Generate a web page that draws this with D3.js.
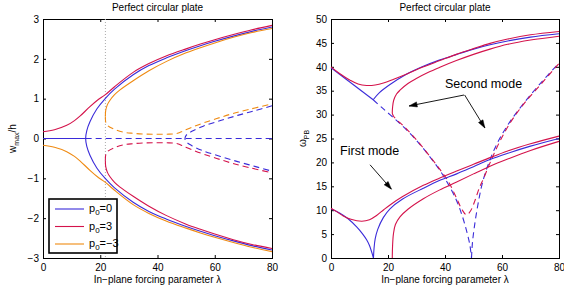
<!DOCTYPE html>
<html>
<head>
<meta charset="utf-8">
<script src="https://cdn.jsdelivr.net/npm/d3@7"></script>
<style>
  body { margin: 0; background: #fff; }
  svg { display: block; font-family: "Liberation Sans", Arial, sans-serif; }
  .tick text { font-size: 10px; fill: #000; }
</style>
</head>
<body>
<div class="container"></div>
<script>
"use strict";

// ---------- data ----------
var lambdaTicks = [0, 20, 40, 60, 80];
var wTicks = [-3, -2, -1, 0, 1, 2, 3];
var omegaTicks = [0, 5, 10, 15, 20, 25, 30, 35, 40, 45, 50];
var lambdaCritical = 21.8; // dotted guide line

// left panel: w_max/h against lambda, [lambda, w]
var blueFlatStable = [[0, 0], [14.9, 0]];
var blueFlatUnstable = [[14.9, 0], [80, 0]];
var blueBuckled = [[80, 2.8], [73, 2.69], [66.5, 2.57], [60, 2.44], [55, 2.33], [50, 2.21], [43, 2.02], [37, 1.83], [31.5, 1.6], [25, 1.24], [21.8, 1.01], [18.8, 0.74], [16.4, 0.42], [15.3, 0.2], [14.9, 0],
  [15.3, -0.2], [16.4, -0.42], [18.8, -0.74], [21.8, -1.01], [25, -1.24], [31.5, -1.6], [37, -1.83], [43, -2.02], [50, -2.21], [55, -2.33], [60, -2.44], [66.5, -2.57], [73, -2.69], [80, -2.8]];
var blueSecond = [[80, 0.82], [74, 0.7], [68, 0.58], [62, 0.45], [56, 0.31], [52, 0.18], [50, 0.08], [49.6, 0],
  [50, -0.08], [52, -0.18], [56, -0.31], [62, -0.45], [68, -0.58], [74, -0.7], [80, -0.82]];

var redStable = [[0, 0.17], [4, 0.22], [8.3, 0.33], [11, 0.45], [12.9, 0.56], [16.4, 0.8], [19, 0.96], [21.8, 1.1], [25, 1.3], [31.5, 1.66], [37, 1.88], [43, 2.07], [50, 2.25], [55, 2.37], [60, 2.48], [66.5, 2.61], [73, 2.73], [80, 2.84]];
var redFoldStable = [[21.8, -0.55], [21.9, -0.7], [22.5, -0.85], [23.4, -0.96], [25, -1.1], [26.9, -1.22], [31.5, -1.45], [37, -1.7], [43, -1.93], [50, -2.15], [55, -2.28], [60, -2.4], [66.5, -2.54], [73, -2.66], [80, -2.76]];
var redFoldUnstable = [[21.8, -0.55], [21.9, -0.42], [22.5, -0.33], [24.6, -0.24], [28, -0.16], [31.5, -0.13], [36, -0.11], [40, -0.105], [44, -0.11], [47, -0.13], [49, -0.19], [52, -0.28], [56, -0.39], [60.7, -0.5], [66, -0.62], [72, -0.73], [80, -0.86]];

var orangeStable = [[0, -0.17], [4, -0.22], [8.3, -0.33], [11, -0.45], [12.9, -0.56], [16.4, -0.8], [19, -0.96], [21.8, -1.1], [25, -1.3], [31.5, -1.66], [37, -1.88], [43, -2.07], [50, -2.25], [55, -2.37], [60, -2.48], [66.5, -2.61], [73, -2.73], [80, -2.84]];
var orangeFoldStable = [[21.8, 0.55], [21.9, 0.7], [22.5, 0.85], [23.4, 0.96], [25, 1.1], [26.9, 1.22], [31.5, 1.45], [37, 1.7], [43, 1.93], [50, 2.15], [55, 2.28], [60, 2.4], [66.5, 2.54], [73, 2.66], [80, 2.76]];
var orangeFoldUnstable = [[21.8, 0.55], [21.9, 0.42], [22.5, 0.33], [24.6, 0.24], [28, 0.16], [31.5, 0.13], [36, 0.11], [40, 0.105], [44, 0.11], [47, 0.13], [49, 0.19], [52, 0.28], [56, 0.39], [60.7, 0.5], [66, 0.62], [72, 0.73], [80, 0.87]];

// right panel: omega_PB against lambda, [lambda, omega]
var blueModeTwoPre = [[0, 39.8], [14.8, 33.1]];
var blueModeTwoPost = [[14.8, 33.1], [17, 34.6], [20.7, 36.3], [26, 38.3], [32.4, 40.1], [38, 41.4], [44.1, 42.6], [50, 43.7], [55.8, 44.6], [62, 45.4], [70, 46.2], [80, 46.9]];
var blueModeTwoDashed = [[14.8, 33.1], [18, 31.4], [22, 29.3], [26, 27.1], [30, 24.6], [34, 21.7], [38, 18.5], [41, 15.6], [44, 12.1], [46, 8.9], [47.6, 5.6], [48.7, 2.8], [49.3, 0]];
var blueModeTwoRise = [[49.3, 0], [49.6, 3], [50.3, 6.5], [51.5, 11], [53, 15.4], [55, 19.3], [58, 23.6], [62, 27.8], [67, 31.9], [73, 36.2], [80, 40.8]];
var blueModeOneLeft = [[0, 10.3], [3, 9.4], [6, 8.2], [9, 6.5], [11, 5.1], [12.5, 3.8], [13.5, 2.6], [14.3, 1.2], [14.9, 0]];
var blueModeOneRight = [[14.9, 0], [15.1, 2], [15.5, 4], [16.4, 6], [18.4, 8.5], [20.7, 10.3], [25, 12.3], [32.4, 14.6], [38, 16.2], [44.1, 17.6], [50, 19.1], [55.8, 20.6], [62, 21.9], [70, 23.4], [80, 25]];

var redModeTwoOuter = [[0, 40], [3, 38.6], [6.7, 37.2], [9.5, 36.4], [12.5, 36.1], [15.5, 36.2], [18.4, 36.6], [22, 37.4], [26.6, 38.5], [32, 39.9], [38.2, 41.3], [44, 42.6], [50, 43.8], [55.8, 44.9], [62, 45.8], [70, 46.7], [80, 47.4]];
var redModeTwoInner = [[21.5, 30.3], [21.6, 31.5], [22, 33], [23, 34.3], [24.2, 35.1], [27, 36.5], [30.1, 37.6], [34, 38.8], [38.2, 39.9], [44, 41.3], [50, 42.6], [55.8, 43.7], [62, 44.7], [70, 45.6], [80, 46.4]];
var redModeTwoDashed = [[21.5, 30.3], [22, 29.6], [26, 27.3], [30, 24.7], [34, 21.8], [38, 18.7], [41, 16.2], [44, 12.6], [46, 10.1], [47.6, 9], [49, 9.9], [50.5, 12], [52, 14.6], [53.5, 16.6], [55.8, 19.9], [59, 24.1], [63, 28.4], [68, 32.5], [74, 36.6], [80, 40.7]];
var redModeOneOuter = [[0, 10.4], [2, 9.7], [4.3, 8.8], [7, 8.1], [10.8, 7.7], [13.5, 8], [16, 8.9], [18.5, 10.1], [20.7, 11.1], [25, 12.8], [32.4, 15.2], [38, 16.7], [44.1, 18.2], [50, 19.6], [55.8, 21], [62, 22.4], [70, 23.9], [80, 25.5]];
var redModeOneInner = [[21.5, 0], [21.6, 2.5], [21.9, 5], [22.6, 7], [24.2, 8.6], [27, 10.2], [32.4, 12.4], [38, 14.2], [44.1, 15.9], [50, 17.6], [55.8, 19.2], [62, 20.7], [70, 22.5], [80, 24.4]];

// legend entries and annotations
var legendLabels = ["0", "3", "\u22123"];
var modeNotes = [
  { text: "Second mode", at: [40, 35.6], arrows: [[[46.7, 34.1], [27.4, 31.8]], [[46.9, 34.1], [54, 27.2]]] },
  { text: "First mode", at: [3.2, 21.5], arrows: [[[13.7, 19.5], [21.2, 14.4]]] }
];

// ---------- drawing ----------
var blue = "#3a2bd9", red = "#d4134b", orange = "#ef8a12";
var dash = "6,4";

var svg = d3.select(".container").append("svg")
  .attr("width", 564)
  .attr("height", 289);

var xL = d3.scaleLinear().domain([0, 80]).range([43, 272]);
var yL = d3.scaleLinear().domain([-3, 3]).range([258, 19]);
var xR = d3.scaleLinear().domain([0, 80]).range([331, 559]);
var yR = d3.scaleLinear().domain([0, 50]).range([258, 19]);

function drawFrame(x, y, yTickValues, title) {
  var x0 = x.range()[0], x1 = x.range()[1], yTop = y.range()[1], yBot = y.range()[0];
  var g = svg.append("g");
  var fmt = d3.format("d");

  g.append("g").attr("transform", "translate(0," + yBot + ")")
    .call(d3.axisBottom(x).tickValues(lambdaTicks).tickFormat(fmt).tickSizeInner(-3).tickSizeOuter(0).tickPadding(6));
  g.append("g").attr("transform", "translate(0," + yTop + ")")
    .call(d3.axisTop(x).tickValues(lambdaTicks).tickSizeInner(-3).tickSizeOuter(0).tickFormat(""));
  g.append("g").attr("transform", "translate(" + x0 + ",0)")
    .call(d3.axisLeft(y).tickValues(yTickValues).tickFormat(fmt).tickSizeInner(-3).tickSizeOuter(0).tickPadding(4));
  g.append("g").attr("transform", "translate(" + x1 + ",0)")
    .call(d3.axisRight(y).tickValues(yTickValues).tickSizeInner(-3).tickSizeOuter(0).tickFormat(""));
  g.selectAll(".domain").remove();
  g.selectAll(".tick line").attr("stroke", "#000");

  g.append("rect")
    .attr("x", x0 + 0.5).attr("y", yTop + 0.5)
    .attr("width", x1 - x0).attr("height", yBot - yTop)
    .attr("fill", "none").attr("stroke", "#000");

  g.append("text")
    .attr("x", (x0 + x1) / 2).attr("y", 11)
    .attr("text-anchor", "middle").style("font-size", "10px")
    .text(title);

  g.append("text")
    .attr("x", (x0 + x1) / 2).attr("y", 283)
    .attr("text-anchor", "middle").style("font-size", "10px")
    .text("In\u2212plane forcing parameter \u03bb");
}

function curve(x, y, pts, color, dashed) {
  var line = d3.line()
    .x(function(d) { return x(d[0]); })
    .y(function(d) { return y(d[1]); })
    .curve(d3.curveCatmullRom.alpha(0.5));
  svg.append("path")
    .datum(pts)
    .attr("d", line)
    .attr("fill", "none")
    .attr("stroke", color)
    .attr("stroke-width", 1.1)
    .attr("stroke-dasharray", dashed ? dash : null);
}

// left panel
drawFrame(xL, yL, wTicks, "Perfect circular plate");

svg.append("line")
  .attr("x1", xL(lambdaCritical)).attr("x2", xL(lambdaCritical))
  .attr("y1", yL(3)).attr("y2", yL(-3))
  .attr("stroke", "#aaa").attr("stroke-dasharray", "1,2");

curve(xL, yL, blueFlatStable, blue, false);
curve(xL, yL, blueFlatUnstable, blue, true);
curve(xL, yL, blueSecond, blue, true);
curve(xL, yL, blueBuckled, blue, false);
curve(xL, yL, orangeFoldUnstable, orange, true);
curve(xL, yL, redFoldUnstable, red, true);
curve(xL, yL, orangeStable, orange, false);
curve(xL, yL, orangeFoldStable, orange, false);
curve(xL, yL, redStable, red, false);
curve(xL, yL, redFoldStable, red, false);

svg.append("text")
  .attr("transform", "translate(16," + yL(0) + ") rotate(-90)")
  .attr("text-anchor", "middle").style("font-size", "10px")
  .call(function(t) {
    t.append("tspan").text("w");
    t.append("tspan").attr("dy", 2.5).style("font-size", "7px").text("max");
    t.append("tspan").attr("dy", -2.5).text("/h");
  });

// legend
var legend = svg.append("g");
legend.append("rect")
  .attr("x", 49).attr("y", 199).attr("width", 68).attr("height", 54)
  .attr("fill", "#fff").attr("stroke", "#000").attr("stroke-width", 1.6);
[blue, red, orange].forEach(function(c, i) {
  var yy = 209 + i * 17.5;
  legend.append("line")
    .attr("x1", 55).attr("x2", 84).attr("y1", yy).attr("y2", yy)
    .attr("stroke", c).attr("stroke-width", 1.1);
  var t = legend.append("text").attr("x", 89).attr("y", yy + 3).style("font-size", "11px");
  t.append("tspan").text("p");
  t.append("tspan").attr("dy", 3).style("font-size", "8px").text("0");
  t.append("tspan").attr("dy", -3).text("=" + legendLabels[i]);
});

// right panel
drawFrame(xR, yR, omegaTicks, "Perfect circular plate");

curve(xR, yR, blueModeTwoDashed, blue, true);
curve(xR, yR, blueModeTwoRise, blue, true);
curve(xR, yR, redModeTwoDashed, red, true);
curve(xR, yR, blueModeTwoPre, blue, false);
curve(xR, yR, blueModeTwoPost, blue, false);
curve(xR, yR, blueModeOneLeft, blue, false);
curve(xR, yR, blueModeOneRight, blue, false);
curve(xR, yR, redModeTwoOuter, red, false);
curve(xR, yR, redModeTwoInner, red, false);
curve(xR, yR, redModeOneOuter, red, false);
curve(xR, yR, redModeOneInner, red, false);

svg.append("text")
  .attr("transform", "translate(306," + yR(25) + ") rotate(-90)")
  .attr("text-anchor", "middle").style("font-size", "10px")
  .call(function(t) {
    t.append("tspan").text("\u03c9");
    t.append("tspan").attr("dy", 2.5).style("font-size", "7px").text("PB");
  });

// annotations
modeNotes.forEach(function(n) {
  svg.append("text")
    .attr("x", xR(n.at[0])).attr("y", yR(n.at[1]))
    .style("font-size", "12.5px")
    .text(n.text);
  n.arrows.forEach(function(a) {
    var xa = xR(a[0][0]), ya = yR(a[0][1]), xb = xR(a[1][0]), yb = yR(a[1][1]);
    var ang = Math.atan2(yb - ya, xb - xa), len = 8, hw = 2.6;
    svg.append("line")
      .attr("x1", xa).attr("y1", ya).attr("x2", xb).attr("y2", yb)
      .attr("stroke", "#000").attr("stroke-width", 0.9);
    var bx = xb - len * Math.cos(ang), by = yb - len * Math.sin(ang);
    var px = -Math.sin(ang) * hw, py = Math.cos(ang) * hw;
    svg.append("path")
      .attr("d", "M" + xb + "," + yb + "L" + (bx + px) + "," + (by + py) + "L" + (bx - px) + "," + (by - py) + "Z")
      .attr("fill", "#000").attr("stroke", "#000").attr("stroke-width", 0.5);
  });
});
</script>
</body>
</html>
